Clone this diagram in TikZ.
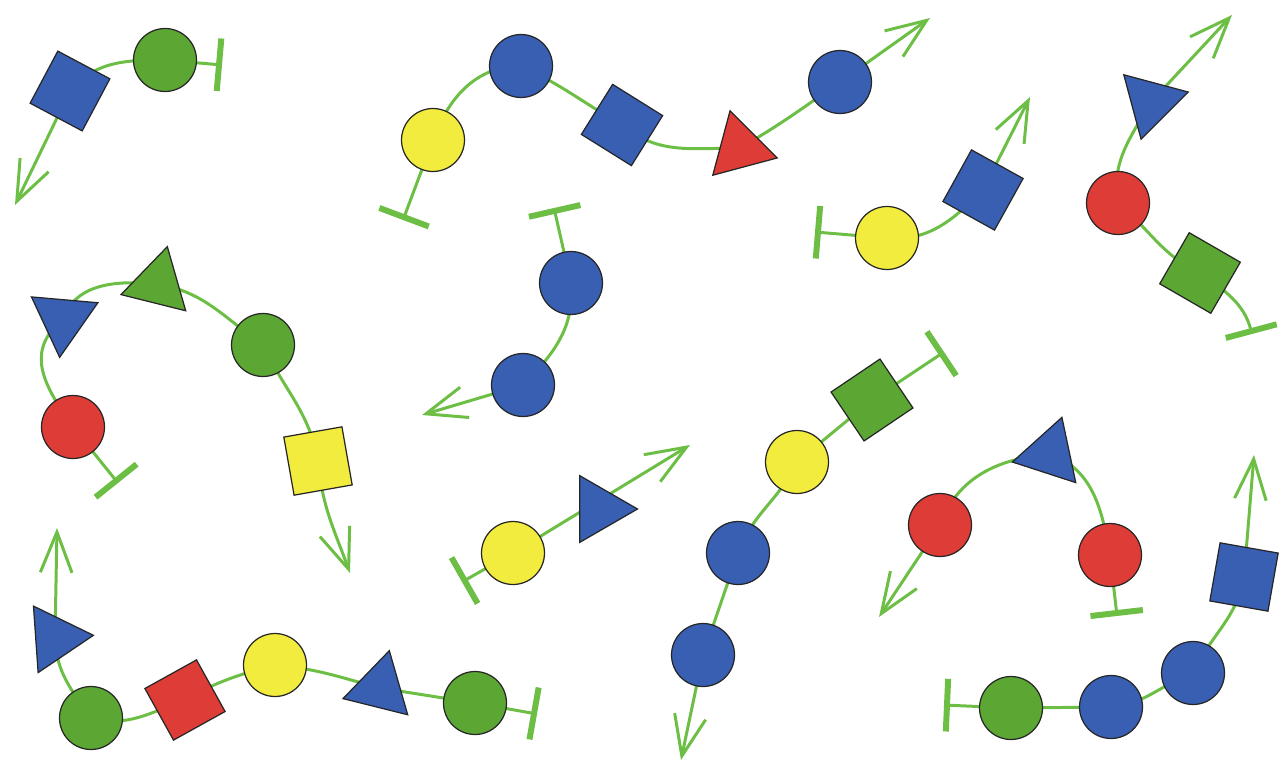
\documentclass[tikz,border=0pt]{standalone}
\usepackage{tikz}
\usetikzlibrary{
  arrows.meta,
  shapes.geometric,
  backgrounds
}
\definecolor{glyblue}{RGB}{56,95,178}
\definecolor{glygreen}{RGB}{92,166,52}
\definecolor{glyred}{RGB}{222,60,54}
\definecolor{glyyellow}{RGB}{242,236,62}
\definecolor{linkgreen}{RGB}{108,190,68}
\tikzset{>={Straight Barb[length=23pt,width=18pt]}}
\tikzset{
  sugar/.style={draw=black!85, line width=0.7pt, inner sep=0pt},
  disc/.style={sugar, circle, minimum size=1.26cm},
  box/.style={sugar, rectangle, minimum size=1.18cm},
  wedge/.style={sugar, regular polygon, regular polygon sides=3, minimum size=1.54cm},
  link/.style={linkgreen, line width=1.7pt},
  growing/.style={link, ->},
  stopped/.style={link, -{Bar[width=30pt, line width=3.4pt]}}
}

\begin{document}
\begin{tikzpicture}[x=0.02cm, y=-0.02cm]
  \useasboundingbox (0,0) rectangle (1283,770);

  % top left
  \node[box, fill=glyblue, rotate=-28] (sqa) at (70,91) {};
  \node[disc, fill=glygreen] (cia) at (165,60) {};
  \coordinate (bara) at (222,65);
  \coordinate (arra) at (15,205);

  % top middle
  \node[disc, fill=glyyellow] (yeb) at (433,140) {};
  \node[disc, fill=glyblue] (blb1) at (521,66) {};
  \node[box, fill=glyblue, rotate=-32] (sqb) at (622,125) {};
  \node[wedge, fill=glyred, rotate=15] (trb) at (740,148) {};
  \node[disc, fill=glyblue] (blb2) at (840,82) {};
  \coordinate (barb) at (403,220);
  \coordinate (arrb) at (930,18);

  % top right
  \node[disc, fill=glyyellow] (yec) at (887,238) {};
  \node[box, fill=glyblue, rotate=-29] (sqc) at (983,190) {};
  \coordinate (barc) at (815,232);
  \coordinate (arrc) at (1030,97);

  % far right
  \node[wedge, fill=glyblue, rotate=45] (trd) at (1151,102) {};
  \node[disc, fill=glyred] (rdd) at (1118,203) {};
  \node[box, fill=glygreen, rotate=-30] (sqd) at (1200,273) {};
  \coordinate (bard) at (1252,334);
  \coordinate (arrd) at (1232,15);

  % left middle
  \node[wedge, fill=glyblue, rotate=55] (tre1) at (63,319) {};
  \node[wedge, fill=glygreen, rotate=-14] (tre2) at (158,284) {};
  \node[disc, fill=glygreen] (cie) at (263,345) {};
  \node[box, fill=glyyellow, rotate=10] (sqe) at (318,461) {};
  \node[disc, fill=glyred] (rde) at (73,427) {};
  \coordinate (bare) at (118,483);
  \coordinate (arre) at (350,573);

  % centre
  \node[disc, fill=glyblue] (blf1) at (571,283) {};
  \node[disc, fill=glyblue] (blf2) at (523,385) {};
  \coordinate (barf) at (554,208);
  \coordinate (arrf) at (422,415);

  \node[disc, fill=glyyellow] (yeg) at (513,553) {};
  \node[wedge, fill=glyblue, rotate=-90] (trg) at (599,509) {};
  \coordinate (barg) at (462,582);
  \coordinate (arrg) at (690,445);

  % diagonal chain
  \node[box, fill=glygreen, rotate=34] (sqh) at (872,400) {};
  \node[disc, fill=glyyellow] (yeh) at (797,462) {};
  \node[disc, fill=glyblue] (blh1) at (738,553) {};
  \node[disc, fill=glyblue] (blh2) at (703,655) {};
  \coordinate (barh) at (944,352);
  \coordinate (arrh) at (681,760);

  % red loop
  \node[disc, fill=glyred] (rdi1) at (940,525) {};
  \node[wedge, fill=glyblue, rotate=-18] (tri) at (1050,454) {};
  \node[disc, fill=glyred] (rdi2) at (1110,555) {};
  \coordinate (bari) at (1117,616);
  \coordinate (arri) at (879,617);

  % bottom right
  \node[disc, fill=glygreen] (cij) at (1011,708) {};
  \node[disc, fill=glyblue] (blj1) at (1111,707) {};
  \node[disc, fill=glyblue] (blj2) at (1193,673) {};
  \node[box, fill=glyblue, rotate=-10] (sqj) at (1244,577) {};
  \coordinate (barj) at (944,705);
  \coordinate (arrj) at (1254,455);

  % bottom left
  \node[wedge, fill=glyblue, rotate=-86] (trk1) at (55,638) {};
  \node[disc, fill=glygreen] (cik1) at (91,718) {};
  \node[box, fill=glyred, rotate=29] (sqk) at (185,700) {};
  \node[disc, fill=glyyellow] (yek) at (275,665) {};
  \node[wedge, fill=glyblue, rotate=-14] (trk2) at (380,688) {};
  \node[disc, fill=glygreen] (cik2) at (475,703) {};
  \coordinate (bark) at (537,714);
  \coordinate (arrk) at (57,528);

  % the chains run behind the sugars
  \begin{scope}[on background layer]
    \draw[link] (sqa.center) to[out=50, in=180] (cia.center);
    \draw[stopped] (cia.center) -- (bara);
    \draw[growing] (sqa.center) -- (arra);

    \draw[stopped] (yeb.center) -- (barb);
    \draw[link] (yeb.center) to[out=70, in=180] (blb1.center);
    \draw[link] (blb1.center) to[out=-25, in=150] (sqb.center);
    \draw[link] (sqb.center) to[out=-40, in=180] (trb.center);
    \draw[link] (trb.center) to[out=30, in=215] (blb2.center);
    \draw[growing] (blb2.center) -- (arrb);

    \draw[stopped] (yec.center) -- (barc);
    \draw[link] (yec.center) to[out=-5, in=225] (sqc.center);
    \draw[growing] (sqc.center) -- (arrc);

    \draw[growing] (trd.center) -- (arrd);
    \draw[link] (rdd.center) to[out=100, in=240] (trd.center);
    \draw[link] (rdd.center) to[out=-40, in=155] (sqd.center);
    \draw[stopped] (sqd.center) to[out=-35, in=105] (bard);

    \draw[link] (rde.center) to[out=125, in=-140, looseness=1.2] (tre1.center);
    \draw[link] (tre1.center) to[out=70, in=175] (tre2.center);
    \draw[link] (tre2.center) to[out=-10, in=145] (cie.center);
    \draw[link] (cie.center) to[out=-65, in=100] (sqe.center);
    \draw[growing] (sqe.center) to[out=-85, in=110] (arre);
    \draw[stopped] (rde.center) -- (bare);

    \draw[stopped] (blf1.center) -- (barf);
    \draw[link] (blf1.center) to[out=-85, in=45] (blf2.center);
    \draw[growing] (blf2.center) -- (arrf);

    \draw[stopped] (yeg.center) -- (barg);
    \draw[growing] (yeg.center) -- (arrg);

    \draw[stopped] (sqh.center) -- (barh);
    \draw[link] (yeh.center) -- (sqh.center);
    \draw[link] (yeh.center) to[out=-115, in=70] (blh1.center);
    \draw[link] (blh1.center) -- (blh2.center);
    \draw[growing] (blh2.center) -- (arrh);

    \draw[link] (rdi1.center) to[out=70, in=185] (tri.center);
    \draw[link] (tri.center) to[out=-20, in=100] (rdi2.center);
    \draw[stopped] (rdi2.center) -- (bari);
    \draw[growing] (rdi1.center) -- (arri);

    \draw[stopped] (cij.center) -- (barj);
    \draw[link] (cij.center) -- (blj1.center);
    \draw[link] (blj1.center) to[out=5, in=200] (blj2.center);
    \draw[link] (blj2.center) to[out=65, in=260] (sqj.center);
    \draw[growing] (sqj.center) -- (arrj);

    \draw[growing] (trk1.center) -- (arrk);
    \draw[link] (trk1.center) to[out=-88, in=125] (cik1.center);
    \draw[link] (cik1.center) to[out=-15, in=200] (sqk.center);
    \draw[link] (sqk.center) to[out=30, in=195] (yek.center);
    \draw[link] (yek.center) to[out=-5, in=165] (trk2.center);
    \draw[link] (trk2.center) -- (cik2.center);
    \draw[stopped] (cik2.center) -- (bark);
  \end{scope}
\end{tikzpicture}
\end{document}
